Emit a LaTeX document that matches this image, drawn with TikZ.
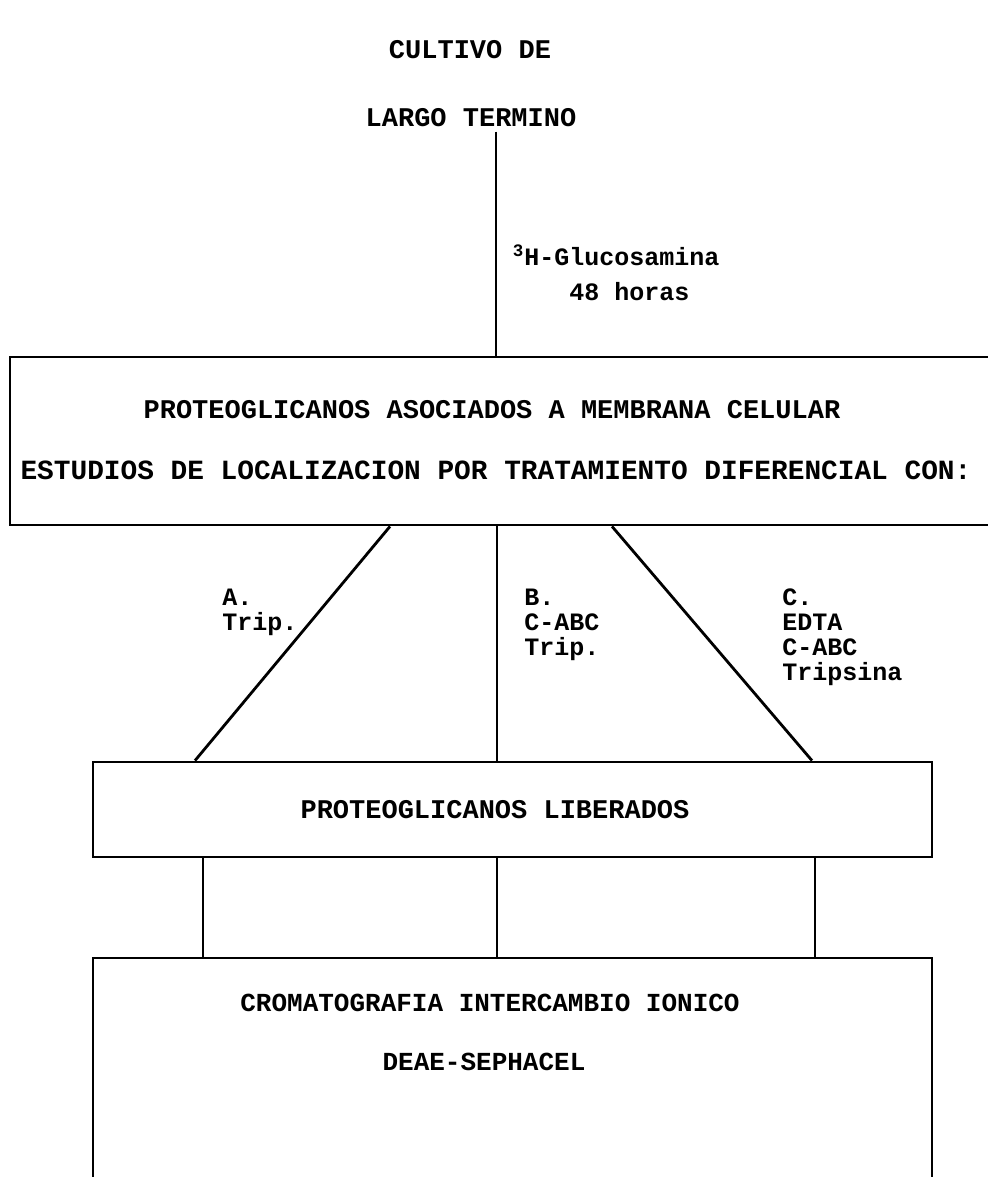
\documentclass[tikz,border=0pt]{standalone}
\usepackage{fontspec}
\setmonofont{Liberation Mono}
\usetikzlibrary{positioning}

\begin{document}
\begin{tikzpicture}[x=0.5pt, y=-0.5pt,
        every node/.style={font=\ttfamily\bfseries\fontsize{13.5}{12.5}\selectfont},
        box/.style={draw, rectangle, line width=1.4pt, inner sep=0pt},
        link/.style={line width=1.4pt},
        lbl/.style={align=left, anchor=west, inner sep=0pt, font=\ttfamily\bfseries\fontsize{12.5}{12.5}\selectfont}]
        \clip (0,0) rectangle (988,1177);
        \fill[white] (0,0) rectangle (988,1177);

        % Culture
        \node (cultivo) at (470,50) {CULTIVO DE};
        \node[inner sep=2pt] (largo) at (471,118) {LARGO TERMINO};
        \node[lbl] (gluc) at (524,273) {\llap{\textsuperscript{3}}H-Glucosamina\\[5pt]\hphantom{H-G}48 horas};

        % Membrane proteoglycans
        \node[box, minimum width=495pt, minimum height=84pt] (memb) at (505,441) {};
        \node (memb1) at (492,410) {PROTEOGLICANOS ASOCIADOS A MEMBRANA CELULAR};
        \node[font=\ttfamily\bfseries\fontsize{13.9}{12.5}\selectfont] (memb2) at (496,470) {ESTUDIOS DE LOCALIZACION POR TRATAMIENTO DIFERENCIAL CON:};

        % Treatments
        \node[lbl] (trA) at (222,612) {A.\\Trip.};
        \node[lbl] (trB) at (524,625) {B.\\C-ABC\\Trip.};
        \node[lbl] (trC) at (782,637) {C.\\EDTA\\C-ABC\\Tripsina};

        % Released proteoglycans
        \node[box, minimum width=419.5pt, minimum height=47.5pt] (lib) at (512.5,809.5) {};
        \node (lib1) at (495,810) {PROTEOGLICANOS LIBERADOS};

        % Ion exchange
        \node[box, minimum width=419.5pt, minimum height=121pt] (ion) at (512.5,1079) {};
        \node[font=\ttfamily\bfseries\fontsize{13}{12.5}\selectfont] (ion1) at (490,1003) {CROMATOGRAFIA INTERCAMBIO IONICO};
        \node[font=\ttfamily\bfseries\fontsize{13}{12.5}\selectfont] (ion2) at (484,1062) {DEAE-SEPHACEL};

        % Line positions
        \coordinate (g0) at (496,0);
        \coordinate (a1) at (390,0);
        \coordinate (a2) at (195,0);
        \coordinate (a3) at (203,0);
        \coordinate (b1) at (497,0);
        \coordinate (c1) at (612,0);
        \coordinate (c2) at (812,0);
        \coordinate (c3) at (815,0);

        % Lines
        \draw[link] (largo.south -| g0) -- (memb.north -| g0);

        \draw[link] (memb.south -| a1) -- (lib.north -| a2);
        \draw[link] (memb.south -| b1) -- (lib.north -| b1);
        \draw[link] (memb.south -| c1) -- (lib.north -| c2);

        \draw[link] (lib.south -| a3) -- (ion.north -| a3);
        \draw[link] (lib.south -| b1) -- (ion.north -| b1);
        \draw[link] (lib.south -| c3) -- (ion.north -| c3);
\end{tikzpicture}
\end{document}
